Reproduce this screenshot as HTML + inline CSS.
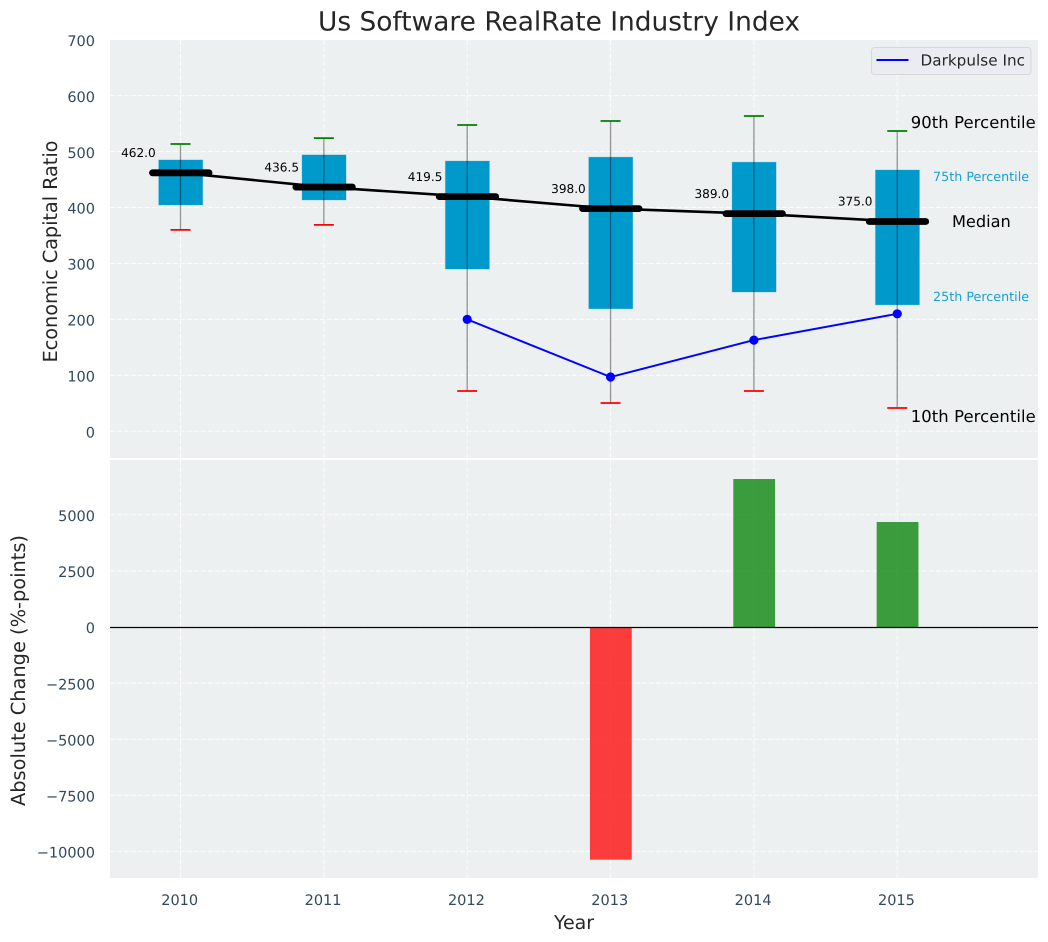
<!DOCTYPE html>
<html lang="en">
<head>
<meta charset="utf-8">
<title>Us Software RealRate Industry Index</title>
<style>
html,body{margin:0;padding:0;background:#fff;}
body{width:1048px;height:942px;overflow:hidden;}
svg{display:block;font-family:"DejaVu Sans","Liberation Sans",sans-serif;text-rendering:geometricPrecision;}
</style>
</head>
<body>
<svg id="chart" xmlns="http://www.w3.org/2000/svg" width="1048" height="942" viewBox="0 0 1048 942">
  <rect x="110" y="40" width="928" height="418" fill="#ecf0f1"/>
  <rect x="110" y="460" width="928" height="418" fill="#ecf0f1"/>
  <g id="grid"></g>
  <g id="boxes"></g>
  <g id="bars"></g>
  <g id="ticks"></g>
  <g id="notes"></g>
  <text x="559" y="30.5" text-anchor="middle" font-size="26.4" textLength="482" lengthAdjust="spacing" fill="#262626">Us Software RealRate Industry Index</text>
  <text transform="translate(57,251.5) rotate(-90)" text-anchor="middle" font-size="19.4" textLength="222" lengthAdjust="spacing" fill="#262626">Economic Capital Ratio</text>
  <text transform="translate(25,670.5) rotate(-90)" text-anchor="middle" font-size="19.4" textLength="271" lengthAdjust="spacing" fill="#262626">Absolute Change (%-points)</text>
  <text x="574" y="929" text-anchor="middle" font-size="19" textLength="40" lengthAdjust="spacing" fill="#262626">Year</text>
  <g>
    <rect x="871.5" y="47.5" width="159.5" height="27" rx="3" fill="#ebecf1" stroke="#d5d7db" stroke-width="1"/>
    <line x1="876.5" x2="908.5" y1="60" y2="60" stroke="#0000ff" stroke-width="1.9"/>
    <text x="920.5" y="65.5" font-size="15.2" textLength="104.5" lengthAdjust="spacing" fill="#262626">Darkpulse Inc</text>
  </g>
</svg>
<script>
var years = [2010, 2011, 2012, 2013, 2014, 2015];
var p90 = [513.5, 524, 547.5, 554.6, 563.5, 536.7];
var p75 = [485, 494, 483, 490, 481, 467];
var medians = [462.0, 436.5, 419.5, 398.0, 389.0, 375.0];
var p25 = [404.5, 413.5, 290, 219, 249, 226];
var p10 = [360, 369, 72, 50.6, 72, 41.6];
var darkpulseYears = [2012, 2013, 2014, 2015];
var darkpulseValues = [200, 97, 163, 210];
var changeYears = [2013, 2014, 2015];
var changeValues = [-10365, 6592, 4677];
var topTicks = [0, 100, 200, 300, 400, 500, 600, 700];
var bottomTicks = [-10000, -7500, -5000, -2500, 0, 2500, 5000];

var NS = 'http://www.w3.org/2000/svg';
function x(year) { return 180.5 + (year - 2010) * 143.35; }
function yTop(v) { return 431.3 - v * 0.5595; }
function yBottom(v) { return 627 - v * 0.02245; }
function make(tag, parent, attrs, text) {
  var node = document.createElementNS(NS, tag);
  for (var k in attrs) { node.setAttribute(k, attrs[k]); }
  if (text !== undefined) { node.textContent = text; }
  parent.appendChild(node);
  return node;
}
function fmt(v) { return String(v).replace('-', '\u2212'); }

var grid = document.getElementById('grid');
var boxes = document.getElementById('boxes');
var bars = document.getElementById('bars');
var ticks = document.getElementById('ticks');
var notes = document.getElementById('notes');
var GRID = {stroke: '#ffffff', 'stroke-width': 1, 'stroke-opacity': 0.8, 'stroke-dasharray': '4.8 2.2'};
var el;

function gridLine(a, b, c, d) {
  var g = make('line', grid, {x1: a, y1: b, x2: c, y2: d});
  for (var k in GRID) { g.setAttribute(k, GRID[k]); }
  return g;
}

topTicks.forEach(function (t) {
  el = gridLine(110, yTop(t), 1038, yTop(t));
  
  
  el = make('text', ticks, {x: 95, y: yTop(t) + 6.2, 'text-anchor': 'end', 'font-size': 14.5, fill: '#34495e'}, fmt(t));
  
  
});
bottomTicks.forEach(function (t) {
  el = gridLine(110, yBottom(t), 1038, yBottom(t));
  
  
  el = make('text', ticks, {x: 95, y: yBottom(t) + 6.2, 'text-anchor': 'end', 'font-size': 14.5, fill: '#34495e'}, fmt(t));
  
  
});
years.forEach(function (yr) {
  el = gridLine(x(yr), 40, x(yr), 458);
  
  
  el = gridLine(x(yr), 460, x(yr), 878);
  
  
  el = make('text', ticks, {x: x(yr) - 0.8, y: 905, 'text-anchor': 'middle', 'font-size': 14.5, fill: '#34495e'}, String(yr));
  
  
});

/* interquartile boxes */
years.forEach(function (yr, i) {
  el = make('rect', boxes, {x: x(yr) - 21.8, y: yTop(p75[i]), width: 44, height: yTop(p25[i]) - yTop(p75[i]), fill: '#0099cc', stroke: '#0099cc', 'stroke-opacity': 0.25, 'stroke-width': 1});
  
  
});

/* whiskers and caps */
years.forEach(function (yr, i) {
  el = make('line', boxes, {x1: x(yr), x2: x(yr), y1: yTop(p90[i]), y2: yTop(p10[i]), stroke: '#000000', 'stroke-opacity': 0.4, 'stroke-width': 1.3});
  
  
  el = make('line', boxes, {x1: x(yr) - 10, x2: x(yr) + 10, y1: yTop(p90[i]), y2: yTop(p90[i]), stroke: '#008000', 'stroke-width': 1.8});
  
  
  el = make('line', boxes, {x1: x(yr) - 10, x2: x(yr) + 10, y1: yTop(p10[i]), y2: yTop(p10[i]), stroke: '#ff0000', 'stroke-width': 1.8});
  
  
});

/* median trend line */
el = make('polyline', boxes, {fill: 'none', stroke: '#000000', 'stroke-width': 2.6, points: years.map(function (yr, i) { return x(yr) + ',' + yTop(medians[i]); }).join(' ')});



/* median bars and value labels */
years.forEach(function (yr, i) {
  el = make('line', boxes, {x1: x(yr) - 28, x2: x(yr) + 28.5, y1: yTop(medians[i]), y2: yTop(medians[i]), stroke: '#000000', 'stroke-width': 6.8, 'stroke-linecap': 'round'});
  
  
  el = make('text', notes, {x: x(yr) - 24.8, y: yTop(medians[i]) - 15.8, 'text-anchor': 'end', 'font-size': 12.1, fill: '#000000'}, medians[i].toFixed(1));
  
  
});

/* Darkpulse series */
el = make('polyline', boxes, {fill: 'none', stroke: '#0000ff', 'stroke-width': 1.9, points: darkpulseYears.map(function (yr, i) { return x(yr) + ',' + yTop(darkpulseValues[i]); }).join(' ')});


darkpulseYears.forEach(function (yr, i) {
  el = make('circle', boxes, {cx: x(yr), cy: yTop(darkpulseValues[i]), r: 4.6, fill: '#0000ff'});
  
  
});

/* absolute-change bars */
changeYears.forEach(function (yr, i) {
  var v = changeValues[i];
  el = make('rect', bars, {x: x(yr) - 20.6, y: Math.min(yBottom(v), yBottom(0)), width: 41.8, height: Math.abs(yBottom(v) - yBottom(0)), fill: v < 0 ? '#ff0000' : '#008000', 'fill-opacity': 0.75});
  
  
});
el = make('line', bars, {x1: 110, x2: 1038, y1: yBottom(0) + 0.5, y2: yBottom(0) + 0.5, stroke: '#000000', 'stroke-width': 1.2});



/* percentile guide labels beside the last box */
var last = years.length - 1;
var lx = x(years[last]);
el = make('text', notes, {x: lx + 13.5, y: yTop(p90[last]) - 3, 'font-size': 16.4, textLength: 125, lengthAdjust: 'spacing', fill: '#000000'}, '90th Percentile');


el = make('text', notes, {x: lx + 35.8, y: yTop(p75[last]) + 11, 'font-size': 12.7, textLength: 96, lengthAdjust: 'spacing', fill: '#0099cc', 'fill-opacity': 0.9}, '75th Percentile');


el = make('text', notes, {x: lx + 54.7, y: yTop(medians[last]) + 5.5, 'font-size': 16.2, fill: '#000000'}, 'Median');


el = make('text', notes, {x: lx + 35.8, y: yTop(p25[last]) - 4, 'font-size': 12.7, textLength: 96, lengthAdjust: 'spacing', fill: '#0099cc', 'fill-opacity': 0.9}, '25th Percentile');


el = make('text', notes, {x: lx + 13.5, y: yTop(p10[last]) + 14, 'font-size': 16.4, textLength: 125, lengthAdjust: 'spacing', fill: '#000000'}, '10th Percentile');


</script>
</body>
</html>
